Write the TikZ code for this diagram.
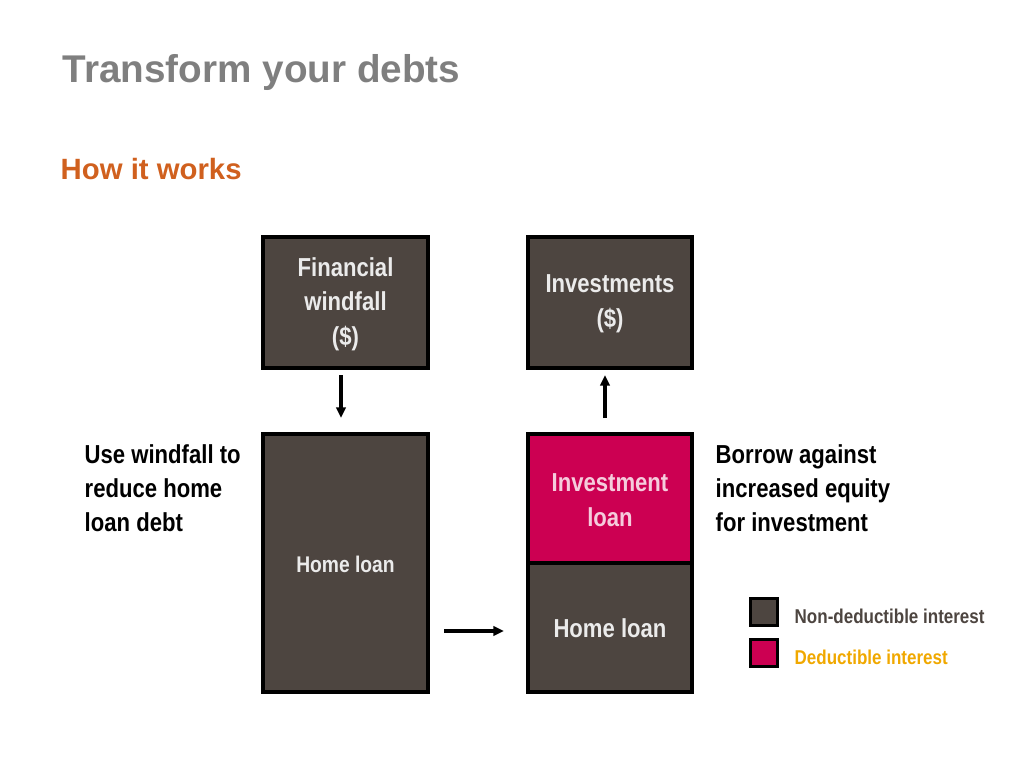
\documentclass[tikz,border=0pt]{standalone}
\usepackage{fontspec}
\setmainfont{Liberation Sans}
\newfontfamily\narrowfont[FakeStretch=0.85]{Liberation Sans}
\usetikzlibrary{arrows.meta, positioning}
\definecolor{boxgrey}{HTML}{4D4540}
\definecolor{debtred}{HTML}{CC0052}
\definecolor{titlegrey}{HTML}{7F7F7F}
\definecolor{headorange}{HTML}{D0601E}
\definecolor{legendgold}{HTML}{F0A800}

\begin{document}
\begin{tikzpicture}[x=0.75pt, y=-0.75pt,
  block/.style={draw=black, line width=2.6pt, fill=boxgrey, text=white!92!black,
    font=\narrowfont\bfseries\fontsize{19.5}{26}\selectfont, align=center},
  side/.style={font=\narrowfont\bfseries\fontsize{19.5}{25.5}\selectfont, align=left, anchor=north west},
  flow/.style={-{Triangle[length=8pt,width=7pt]}, line width=2.3pt}]
  \useasboundingbox (0,0) rectangle (1024,768);

  \node (title) [anchor=west, text=titlegrey, font=\bfseries\fontsize{29}{33}\selectfont] at (58,72) {Transform your debts};
  \node (how) [anchor=west, text=headorange, font=\bfseries\fontsize{22}{26}\selectfont] at (56,169) {How it works};

  % boxes
  \draw[block] (263,237) rectangle (428,368);
  \node (windfall) [block, draw=none, fill=none] at (345.5,304) {Financial\\windfall\\(\$)};
  \draw[block] (528,237) rectangle (692,368);
  \node (invest) [block, draw=none, fill=none] at (610,304) {Investments\\(\$)};
  \draw[block] (263,434) rectangle (428,692);
  \node (homeA) [block, draw=none, fill=none, font=\narrowfont\bfseries\fontsize{17}{20}\selectfont] at (345.5,564) {Home loan};
  \draw[block, fill=debtred] (528,434) rectangle (692,563);
  \node (invloan) [block, draw=none, fill=none, text=white!80!debtred] at (610,500) {Investment\\loan};
  \draw[block] (528,563) rectangle (692,692);
  \node (homeB) [block, draw=none, fill=none] at (610,628) {Home loan};

  % arrows
  \coordinate (a1) at (341,375); \coordinate (a2) at (341,418);
  \coordinate (b1) at (605,418); \coordinate (b2) at (605,375);
  \coordinate (c1) at (444,631); \coordinate (c2) at (504,631);
  \draw[flow] (a1) -- (a2);
  \draw[flow] (b1) -- (b2);
  \draw[flow] (c1) -- (c2);

  % side texts
  \node (useW) [side] at (80,440) {Use windfall to\\reduce home\\loan debt};
  \node (borrow) [side] at (711,440) {Borrow against\\increased equity\\for investment};

  % legend
  \node (keyA) [draw=black, line width=2.3pt, fill=boxgrey, minimum size=20pt, inner sep=0pt] at (764,612) {};
  \node (keyB) [draw=black, line width=2.3pt, fill=debtred, minimum size=20pt, inner sep=0pt] at (764,653) {};
  \node [anchor=west, text=boxgrey, font=\narrowfont\bfseries\fontsize{15}{17}\selectfont] at (790,616) {Non-deductible interest};
  \node [anchor=west, text=legendgold, font=\narrowfont\bfseries\fontsize{15}{17}\selectfont] at (790,657) {Deductible interest};
\end{tikzpicture}
\end{document}
